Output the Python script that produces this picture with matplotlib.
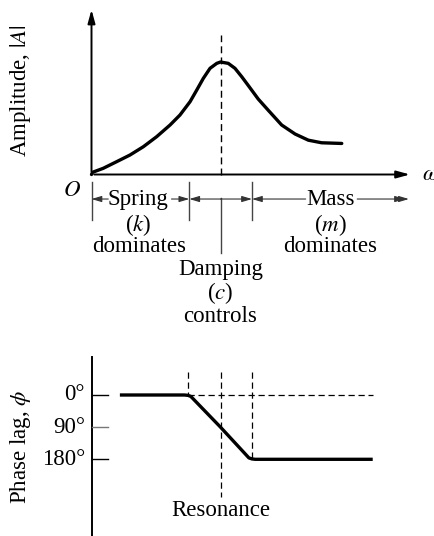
import numpy as np
import matplotlib
matplotlib.use("Agg")
from matplotlib import pyplot as plt

plt.rcParams['font.family'] = ['Liberation Serif', 'DejaVu Serif']
plt.rcParams['mathtext.fontset'] = 'stix'

# frequency ratio r = w/wn and amplitude (peak = 1)
amp_r = [0.0, 0.009, 0.091, 0.195, 0.298, 0.402, 0.505, 0.609, 0.686, 0.764, 0.816,
         0.867, 0.919, 0.971, 1.0, 1.06, 1.112, 1.164, 1.216, 1.293, 1.371, 1.474,
         1.578, 1.681, 1.784, 1.94]
amp_a = [0.0, 0.02, 0.055, 0.114, 0.173, 0.247, 0.336, 0.44, 0.529, 0.647, 0.751,
         0.855, 0.944, 0.988, 1.0, 0.988, 0.944, 0.87, 0.79, 0.67, 0.57, 0.44,
         0.36, 0.305, 0.282, 0.276]

# phase lag curve (deg)
ph_r = [0.22, 0.72, 0.748, 0.77, 1.0, 1.22, 1.244, 1.27, 2.18]
ph_deg = [0, 0, 1, 4, 90, 176, 179, 180, 180]

ph_ticks = [0, 90, 180]
ph_labels = ['0°', '90°', '180°']

# region bounds along r
r_spring = 0.758
r_res = 1.0
r_mass = 1.244

FS = 16.5
W, H = 434, 536
fig = plt.figure(figsize=(W / 100, H / 100), dpi=100)

# top panel: amplitude
ax1 = fig.add_axes([0, 1 - 265 / H, 1, 265 / H])
ax1.set_xlim(-91.5 / 129, (W - 91.5) / 129)
ax1.set_ylim((174.5 - 265) / 112.5, 174.5 / 112.5)
ax1.axis('off')

ax1.plot(amp_r, amp_a, color='black', lw=2.4, solid_capstyle='round', solid_joinstyle='round')
ax1.annotate('', xy=(0, 1.49), xytext=(0, 0),
             arrowprops=dict(arrowstyle='-|>,head_length=0.8,head_width=0.22', lw=1.4, color='black'))
ax1.annotate('', xy=(2.49, 0), xytext=(0, 0),
             arrowprops=dict(arrowstyle='-|>,head_length=0.8,head_width=0.22', lw=1.4, color='black'))
ax1.text(2.56, 0, r'$\omega$', fontsize=FS, va='center', ha='left')
ax1.text(-0.151, -0.138, r'$O$', fontsize=FS, va='center', ha='center')
ax1.plot([r_res, r_res], [0, 1.24], color='black', lw=1.0, ls=(0, (5, 3)))

# region markers
for rb in [0, r_spring, r_mass]:
    ax1.plot([rb, rb], [-0.067, -0.404], color='#444444', lw=1.0)
ax1.plot([r_res, r_res], [-0.209, -0.698], color='#444444', lw=1.0)

ya = -0.218
aprops = dict(arrowstyle='-|>,head_length=0.6,head_width=0.18', lw=0.8, color='#333333',
              shrinkA=0, shrinkB=0)
ax1.annotate('', xy=(0, ya), xytext=(0.13, ya), arrowprops=aprops)
ax1.annotate('', xy=(r_spring, ya), xytext=(0.62, ya), arrowprops=aprops)
ax1.annotate('', xy=(r_spring, ya), xytext=(r_res, ya), arrowprops=aprops)
ax1.annotate('', xy=(r_mass, ya), xytext=(r_res, ya), arrowprops=aprops)
ax1.annotate('', xy=(r_mass, ya), xytext=(1.66, ya), arrowprops=aprops)
ax1.annotate('', xy=(2.43, ya), xytext=(2.06, ya), arrowprops=aprops)
ax1.annotate('', xy=(2.46, ya), xytext=(2.40, ya), arrowprops=aprops)

ax1.text(0.36, ya, 'Spring', fontsize=FS, ha='center', va='center')
ax1.text(0.36, -0.449, '($k$)', fontsize=FS, ha='center', va='center')
ax1.text(0.37, -0.636, 'dominates', fontsize=FS, ha='center', va='center')
ax1.text(1.85, ya, 'Mass', fontsize=FS, ha='center', va='center')
ax1.text(1.85, -0.449, '($m$)', fontsize=FS, ha='center', va='center')
ax1.text(1.85, -0.636, 'dominates', fontsize=FS, ha='center', va='center')
ax1.text(-0.554, 0.75, 'Amplitude, $|A|$', fontsize=16.5, rotation=90, ha='center', va='center')

# bottom panel: phase
ax2 = fig.add_axes([0, 0, 1, 271 / H])
ax2.set_xlim(-91.5 / 129, (W - 91.5) / 129)
pdeg = (459.3 - 395) / 180
ax2.set_ylim((536 - 395) / pdeg, -(395 - 265) / pdeg)
ax2.axis('off')

ax2.text(r_res, -(395 - 270) / pdeg, 'Damping', fontsize=FS, ha='center', va='center')
ax2.text(r_res, -(395 - 293) / pdeg, '($c$)', fontsize=FS, ha='center', va='center')
ax2.text(r_res, -(395 - 317) / pdeg, 'controls', fontsize=FS, ha='center', va='center')

ax2.plot([0, 0], [-(395 - 357) / pdeg, (536 - 395) / pdeg], color='black', lw=1.4)
for t, lab in zip(ph_ticks, ph_labels):
    ax2.plot([0, 0.128], [t, t], color='#777777' if t == 90 else 'black', lw=1.0)
    ax2.text(-0.05, t, lab, fontsize=FS, ha='right', va='center')

ax2.plot(ph_r, ph_deg, color='black', lw=2.4, solid_capstyle='butt', solid_joinstyle='round')
dash = (0, (5, 3))
top = -(395 - 372) / pdeg
ax2.plot([r_spring - 0.01, r_spring - 0.01], [top, 0], color='black', lw=0.9, ls=dash)
ax2.plot([r_res, r_res], [top, (497 - 395) / pdeg], color='black', lw=0.9, ls=dash)
ax2.plot([r_mass, r_mass], [top, 180], color='black', lw=0.9, ls=dash)
ax2.plot([r_spring - 0.01, 2.18], [0, 0], color='black', lw=0.9, ls=dash)
ax2.text(r_res, (510 - 395) / pdeg, 'Resonance', fontsize=FS, ha='center', va='center')
ax2.text(-0.554, (447 - 395) / pdeg, r'Phase lag, $\phi$', fontsize=FS, rotation=90,
         ha='center', va='center')

fig.savefig('out.png', dpi=100)
